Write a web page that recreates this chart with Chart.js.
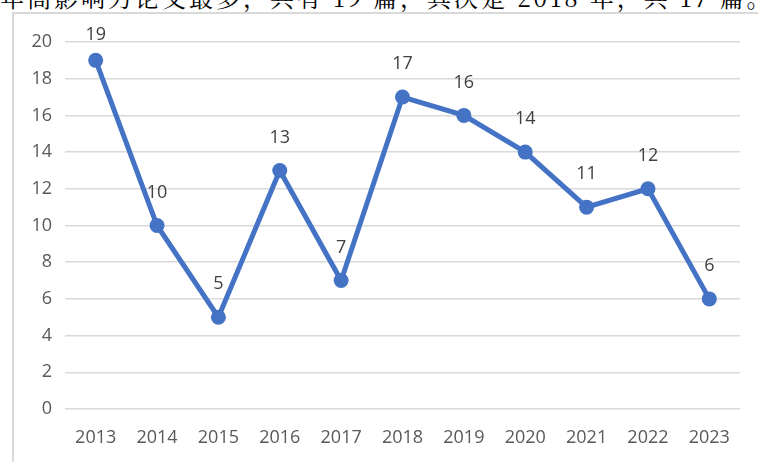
<!DOCTYPE html>
<html>
<head>
<meta charset="utf-8">
<script src="https://cdn.jsdelivr.net/npm/chart.js@4"></script>
<style>
    html, body { margin: 0; padding: 0; background: #fff; }
    body { width: 758px; height: 462px; position: relative; overflow: hidden; }
    .caption {
        position: absolute; left: 0; top: -15px; white-space: nowrap;
        font-family: "Noto Serif CJK SC", "DejaVu Serif", "Noto Sans CJK SC", serif;
        font-size: 24px; line-height: 24px; color: #000; letter-spacing: 3px;
    }
    .frame {
        position: absolute; left: 12px; top: 12px; width: 760px; height: 460px;
        border-left: 2px solid #d9d9d9; border-top: 2px solid #d9d9d9;
    }
    #chart { position: absolute; left: 0; top: 0; }
</style>
</head>
<body>
<div class="caption">年高影响力论文最多，共有 19 篇，其次是 2018 年，共 17 篇。</div>
<div class="frame"></div>
<canvas id="chart" width="758" height="462"></canvas>
<script>
    const years = ['2013', '2014', '2015', '2016', '2017', '2018', '2019', '2020', '2021', '2022', '2023'];
    const papers = [19, 10, 5, 13, 7, 17, 16, 14, 11, 12, 6];
    const yTicks = [0, 2, 4, 6, 8, 10, 12, 14, 16, 18, 20];

    const fontFamily = '"Open Sans", "Noto Sans", sans-serif';

    // Writes each value above its point
    const pointLabels = {
        id: 'pointLabels',
        afterDatasetsDraw(chart) {
            const ctx = chart.ctx;
            const meta = chart.getDatasetMeta(0);
            ctx.save();
            ctx.font = '18px ' + fontFamily;
            ctx.fillStyle = '#404040';
            ctx.textAlign = 'center';
            ctx.textBaseline = 'middle';
            meta.data.forEach((pt, i) => {
                const y = Math.max(pt.y - 33, chart.chartArea.top - 7);
                ctx.fillText(String(papers[i]), pt.x, y);
            });
            ctx.restore();
        }
    };

    new Chart(document.getElementById('chart'), {
        type: 'line',
        data: {
            labels: years,
            datasets: [{
                data: papers,
                borderColor: '#4472C4',
                backgroundColor: '#4472C4',
                borderWidth: 5,
                pointRadius: 7.5,
                pointBackgroundColor: '#4472C4',
                pointBorderWidth: 0,
                tension: 0
            }]
        },
        options: {
            responsive: false,
            animation: false,
            layout: { padding: { top: 42, right: 18, left: 0, bottom: 0 } },
            plugins: {
                legend: { display: false },
                tooltip: { enabled: false }
            },
            scales: {
                x: {
                    offset: true,
                    grid: { display: false, drawTicks: false },
                    border: { display: false },
                    ticks: {
                        padding: 18,
                        color: '#595959',
                        font: { size: 18, family: fontFamily },
                        maxRotation: 0
                    },
                    afterFit(scale) { scale.height = 53; }
                },
                y: {
                    min: 0,
                    max: 20,
                    afterBuildTicks(scale) { scale.ticks = yTicks.map(v => ({ value: v })); },
                    grid: { color: '#d9d9d9', lineWidth: 1.5, drawTicks: false },
                    border: { display: false },
                    ticks: {
                        padding: 13,
                        color: '#595959',
                        font: { size: 18, family: fontFamily }
                    },
                    afterFit(scale) { scale.width = 65; }
                }
            }
        },
        plugins: [pointLabels]
    });
</script>
</body>
</html>
